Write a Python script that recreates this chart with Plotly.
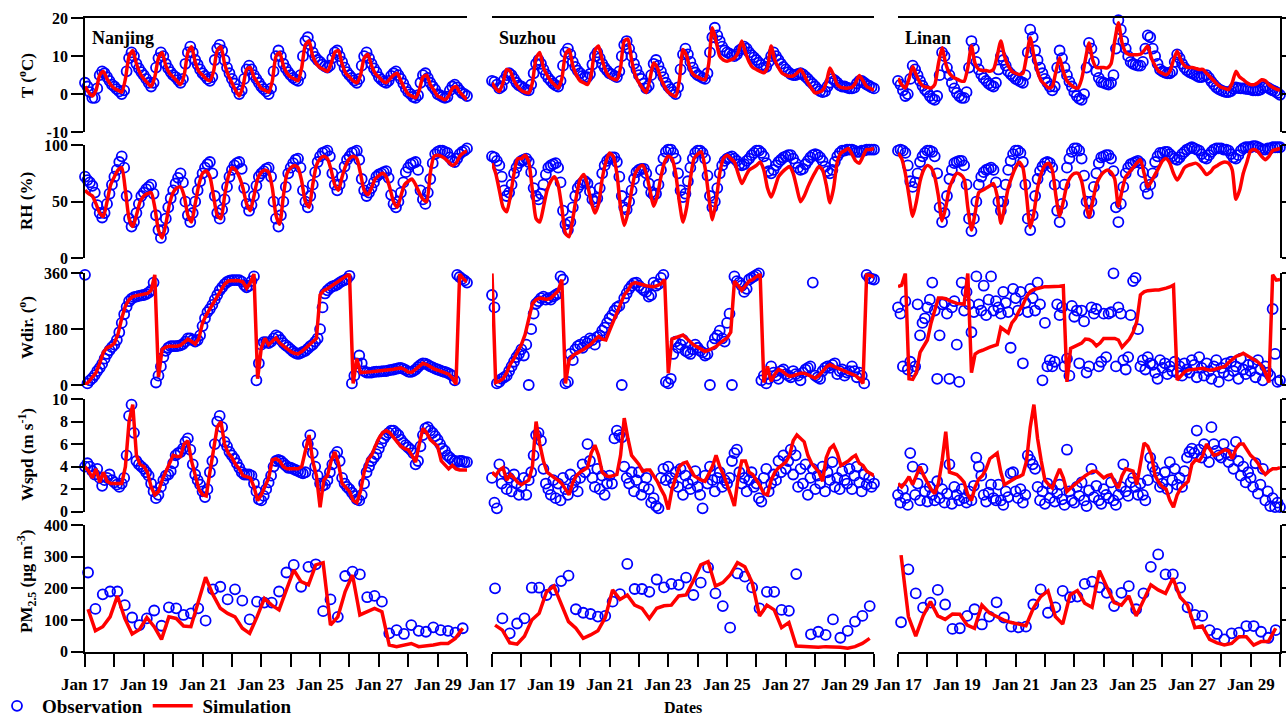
import plotly.graph_objects as go
import pandas as pd

# ---------------- data ----------------
# observations: every 2 h (Jan 17 00:00 .. Jan 30 00:00); simulations: every 3 h; PM2.5: every 6 h
CITIES = ["Nanjing", "Suzhou", "Linan"]
DATE_LABELS = ["Jan 17", "", "Jan 19", "", "Jan 21", "", "Jan 23", "", "Jan 25", "", "Jan 27", "", "Jan 29", ""]

NJ_T_OBS = [3, 2, 0.5, -1, -1, 1.5, 5, 6, 5.5, 4.5, 3.5, 2.5,
            2, 1.3, 0.7, 0, 1, 6, 9.5, 11, 10, 8, 6.8, 5.8,
            5, 4, 3, 2, 3, 7, 9.5, 11, 10, 8, 6.8, 5.8,
            5, 4.5, 3.7, 3, 4, 8, 11, 12.5, 11, 9, 7.8, 6.5,
            5.5, 4.8, 4, 3.5, 4.5, 9, 12, 13, 11.5, 9, 7, 5.5,
            4, 2.8, 1.3, 0, 1, 4, 6.5, 7.5, 6.5, 5, 4, 3,
            2, 1.3, 0.7, 0, 1.5, 6, 10, 11.5, 10, 8, 6.8, 5.8,
            5, 4.3, 3.8, 3.5, 5, 10, 14, 15, 13, 11, 9.8, 9,
            8.5, 7.8, 7.3, 7, 7.5, 9.5, 11, 11.5, 10, 8.5, 7, 5.8,
            5, 4.3, 3.6, 3, 4, 7.5, 10, 11, 9.5, 8, 6.8, 5.8,
            4.5, 3.8, 3.3, 3, 3.5, 4.8, 5.5, 6, 5, 4, 2.8, 1.5,
            0.5, 0, -0.7, -1, -0.3, 3, 5, 5.5, 4.3, 3, 2, 1.2,
            0, -0.3, -0.7, -1, -0.7, 1, 2, 2.5, 1.8, 1, 0.3, 0,
            -0.5]
SZ_T_OBS = [3.5, 3.2, 2.5, 1.5, 2, 3.8, 5, 5.5, 5, 4, 3, 2.3,
            2, 1.5, 1.1, 1, 2.5, 5.5, 8, 9, 8, 6.5, 5.2, 4.2,
            3.5, 2.8, 2.3, 2, 3.5, 7.5, 11, 12, 10.5, 8.5, 7.2, 6.2,
            5.5, 4.8, 4.5, 4.5, 5.3, 7.8, 10, 11, 9.5, 8, 7, 6.2,
            5.5, 5.2, 4.8, 4.5, 6, 10, 13, 14, 12, 10, 8, 6.5,
            5, 4, 2.8, 1.5, 2.2, 5, 8, 9, 7.5, 6, 4.5, 3,
            2, 1.3, 0.6, 0, 1.8, 6.5, 10.5, 12, 10.5, 8.5, 7, 5.7,
            5, 4.7, 4.3, 4, 5.5, 11, 15, 17.5, 15.5, 14, 12.5, 11.5,
            11, 10.7, 10.3, 10, 10.5, 11.5, 12, 12.5, 12, 11, 10.3, 9.7,
            9, 8.3, 7.7, 7, 7.2, 8.5, 10, 11, 10, 9, 8, 7.2,
            6.5, 5.8, 5.3, 5, 5, 5.3, 5.5, 5.2, 4.6, 4, 3.3, 2.7,
            2, 1.3, 0.8, 0.5, 0.7, 2, 3, 4, 3.6, 3, 2.3, 2,
            2, 1.7, 1.5, 1.5, 1.7, 2.8, 3.5, 3.5, 3, 2.5, 2.2, 1.8,
            1.5]
LN_T_OBS = [3.5, 2.5, 1, -0.5, 0, 4, 7.5, 6.5, 5, 3.5, 2.2, 1.2,
            0.5, -0.5, -1.2, -1.5, -0.5, 5, 11, 10, 7, 5, 3, 1.5,
            0.3, -0.5, -1, -1, 0.5, 7, 14, 12, 8.5, 6.5, 5.2, 4.2,
            3.5, 2.8, 2.3, 2, 3, 6.5, 10, 9, 7.5, 6, 5.3, 4.7,
            4, 3.7, 3.3, 3, 5, 11, 17, 15, 11.5, 9, 7, 5.5,
            4, 3, 2, 1, 2, 7, 11.5, 9.5, 7, 5, 3.3, 2,
            0.5, -0.5, -1.2, -1.5, 0, 7, 13.5, 12, 8.5, 6, 4.3, 3.2,
            3, 2.7, 2.5, 3, 5, 12, 19.5, 17, 14, 12, 10, 8.5,
            8, 7.7, 7.5, 7.5, 8.5, 12, 15.5, 15, 12, 10, 8, 6.5,
            6, 5.7, 5.5, 5.5, 6, 8.5, 10.5, 9.5, 8, 7, 6.3, 5.8,
            5.5, 5.2, 4.8, 4.5, 4.5, 4.8, 5, 4.3, 3.3, 2.5, 1.8, 1.3,
            1, 0.7, 0.5, 0.5, 0.8, 1.4, 1.8, 1.6, 1.5, 1.5, 1.4, 1.3,
            1.2, 1, 1, 1, 1.2, 1.7, 2, 1.7, 1.3, 1, 0.7, 0.3,
            -0.2]
NJ_T_SIM = [2, 0.5, -0.5, 1, 5, 6, 4, 2.5, 1.5, 1, 0.5, 4, 10, 11.5, 8, 5.5, 4, 3, 2, 4.5, 9.5, 11, 7.5, 5.5,
            4.5, 3.5, 2.5, 5, 11, 12.5, 8.5, 6, 5, 4, 3.5, 6, 11.5, 12.5, 8, 5, 3, 1, -0.5, 2, 6.5, 7, 4.5, 3,
            1.5, 1, 0.5, 3.5, 10, 11, 7.5, 5.5, 4.5, 4, 3.5, 7, 13, 14, 10, 8, 7, 6.5, 6, 8, 11, 11.5, 8, 5.5,
            4.5, 3.5, 3, 5, 9.5, 10.5, 7.5, 5.5, 4.5, 3.5, 3, 4, 5, 5.5, 3.5, 1.5, 0, -0.5, -1, 1, 4.5, 5, 2.5, 1,
            -0.5, -1, -1.5, -0.5, 1.5, 2, 0.5, -0.5, -1.5]
SZ_T_SIM = [3.0, 1.5, 0.7, 3.0, 6.5, 6.0, 3.5, 2.0, 1.0, 0.5, 0.3, 3.0, 9.5, 11.0, 7.0, 5.0,
            3.5, 2.5, 1.6, 4.0, 10.5, 11.8, 7.5, 5.0, 3.5, 3.0, 2.5, 5.0, 11.5, 12.7, 9.0, 6.0,
            4.5, 4.0, 3.8, 7.0, 14.0, 14.5, 9.0, 5.0, 3.0, 1.5, 0.4, 4.0, 8.2, 7.0, 4.0, 2.0,
            0.5, -0.2, -0.6, 3.5, 11.8, 10.0, 6.5, 5.0, 4.5, 4.0, 3.8, 8.0, 17.5, 14.0, 10.0, 9.0,
            8.7, 9.0, 9.5, 11.0, 14.0, 11.0, 8.5, 7.0, 6.5, 6.0, 5.6, 7.0, 12.7, 9.0, 7.0, 5.5,
            5.0, 4.7, 4.8, 5.5, 6.5, 5.0, 3.0, 1.5, 0.3, 0.5, 1.0, 3.0, 6.9, 5.0, 2.5, 1.8,
            1.6, 1.6, 1.8, 3.0, 4.9, 3.5, 2.0, 1.5, 1.0]
LN_T_SIM = [4.2, 2.5, 1.6, 4.0, 7.3, 5.0, 3.0, 2.0, 1.8, 1.6, 2.5, 8.0, 12.2, 8.0, 5.5, 4.5,
            4.0, 3.5, 3.4, 7.0, 12.7, 8.0, 6.5, 6.2, 6.2, 6.0, 6.5, 10.0, 14.0, 10.0, 7.5, 6.0,
            5.5, 5.2, 5.5, 10.0, 14.9, 10.0, 6.0, 3.5, 2.5, 1.6, 2.0, 6.0, 9.6, 6.0, 3.5, 2.5,
            1.8, 1.6, 4.0, 9.0, 13.5, 9.0, 7.0, 7.0, 7.0, 6.9, 8.0, 14.0, 18.8, 13.5, 11.0, 10.4,
            10.4, 10.4, 10.5, 11.5, 12.7, 9.5, 7.5, 6.0, 5.5, 5.1, 6.0, 9.0, 11.3, 9.0, 7.5, 7.0,
            7.0, 6.8, 6.5, 6.5, 5.5, 4.5, 3.5, 2.5, 1.8, 1.5, 1.2, 3.0, 6.0, 4.5, 3.8, 3.0,
            2.5, 2.5, 3.0, 3.8, 3.5, 2.5, 1.8, 1.3, 1.0]

NJ_RH_OBS = [72, 69, 67, 64, 58, 47, 40, 36, 40, 48, 57, 65,
             72, 78, 85, 90, 80, 55, 35, 28, 32, 40, 48, 55,
             58, 61, 63, 65, 57, 38, 25, 18, 25, 35, 45, 53,
             60, 66, 71, 75, 67, 50, 38, 32, 40, 50, 60, 68,
             75, 80, 83, 85, 75, 55, 40, 35, 43, 52, 63, 72,
             78, 82, 84, 85, 79, 62, 48, 42, 47, 55, 64, 72,
             75, 77, 79, 80, 72, 50, 35, 28, 38, 50, 63, 75,
             80, 84, 87, 88, 80, 60, 50, 45, 55, 65, 76, 85,
             90, 93, 94, 95, 90, 75, 65, 60, 65, 72, 81, 87,
             90, 93, 94, 95, 87, 70, 60, 55, 58, 62, 67, 72,
             74, 75, 76, 77, 71, 56, 48, 45, 50, 58, 67, 76,
             80, 83, 84, 85, 78, 60, 52, 48, 58, 70, 84, 92,
             94, 95, 95, 94, 93, 89, 86, 85, 88, 92, 94, 95,
             97]
SZ_RH_OBS = [90, 89, 86, 82, 72, 60, 55, 58, 65, 75, 80, 84,
             86, 87, 88, 85, 76, 62, 55, 52, 57, 65, 74, 80,
             82, 83, 84, 80, 67, 42, 30, 25, 32, 45, 55, 62,
             65, 67, 68, 66, 59, 52, 50, 53, 62, 75, 82, 86,
             88, 89, 89, 85, 72, 55, 45, 43, 50, 60, 70, 76,
             78, 79, 79, 75, 66, 58, 56, 57, 65, 78, 88, 94,
             96, 96, 93, 88, 75, 60, 54, 57, 68, 80, 88, 93,
             95, 95, 93, 88, 73, 55, 45, 50, 62, 75, 82, 86,
             88, 89, 90, 88, 86, 83, 82, 83, 86, 88, 91, 93,
             95, 95, 93, 90, 84, 77, 75, 78, 82, 85, 87, 89,
             90, 91, 91, 88, 84, 80, 78, 79, 83, 86, 89, 91,
             92, 91, 89, 86, 81, 77, 75, 78, 85, 90, 93, 95,
             95, 96, 96, 96, 95, 94, 94, 95, 95, 96, 96, 96,
             96]
LN_RH_OBS = [95, 96, 95, 93, 82, 68, 63, 67, 75, 85, 90, 93,
             95, 95, 94, 90, 75, 45, 32, 40, 55, 70, 78, 84,
             85, 86, 86, 82, 65, 35, 24, 35, 50, 65, 72, 76,
             78, 79, 80, 78, 67, 50, 42, 50, 65, 78, 86, 92,
             95, 95, 93, 85, 65, 35, 25, 38, 55, 70, 77, 81,
             84, 85, 84, 80, 65, 42, 32, 48, 65, 80, 88, 94,
             97, 97, 95, 88, 73, 50, 40, 50, 63, 75, 84, 89,
             90, 91, 91, 88, 77, 45, 32, 48, 63, 75, 80, 83,
             84, 85, 86, 84, 76, 63, 57, 65, 75, 85, 90, 93,
             93, 94, 94, 92, 90, 88, 87, 89, 92, 94, 96, 97,
             98, 97, 96, 95, 92, 89, 88, 91, 94, 96, 97, 97,
             97, 96, 96, 95, 92, 89, 88, 91, 95, 97, 98, 98,
             98, 99, 99, 98, 97, 96, 96, 97, 97, 98, 98, 98,
             98]
NJ_RH_SIM = [60, 57, 55, 48, 40, 37, 50, 65, 72, 78, 80, 60, 35, 28, 38, 50, 55, 57, 58, 45, 25, 18, 30, 48,
             58, 62, 63, 55, 38, 32, 48, 65, 75, 77, 72, 55, 38, 35, 55, 72, 80, 78, 72, 62, 48, 42, 55, 70,
             76, 78, 76, 62, 38, 30, 55, 75, 80, 82, 80, 68, 50, 45, 65, 82, 88, 90, 88, 78, 65, 60, 72, 82,
             88, 90, 88, 75, 60, 56, 62, 70, 73, 75, 72, 62, 50, 45, 55, 65, 68, 70, 65, 58, 52, 50, 75, 90,
             91, 90, 88, 85, 82, 84, 90, 93, 95]
SZ_RH_SIM = [84, 75, 60, 45, 41, 55, 75, 88, 88, 91, 85, 60, 35, 32, 45, 60, 68, 72, 65, 45, 22, 19, 35, 55,
             70, 74, 65, 50, 40, 48, 70, 85, 93, 90, 75, 45, 29, 40, 60, 75, 80, 82, 75, 60, 46, 55, 72, 85,
             90, 88, 75, 50, 32, 45, 70, 88, 92, 94, 80, 55, 34, 50, 75, 88, 91, 88, 85, 75, 66, 72, 78, 80,
             82, 85, 78, 62, 54, 62, 72, 76, 79, 81, 75, 62, 50, 55, 63, 70, 76, 81, 78, 65, 49, 62, 85, 93,
             95, 97, 92, 86, 84, 90, 96, 96, 97]
LN_RH_SIM = [93, 88, 75, 55, 37, 50, 68, 78, 82, 80, 72, 55, 33, 45, 62, 70, 75, 74, 70, 45, 25, 40, 58, 60,
             62, 64, 66, 55, 31, 45, 62, 72, 80, 85, 80, 55, 27, 40, 62, 75, 82, 84, 78, 55, 37, 50, 65, 72,
             75, 75, 68, 50, 36, 50, 65, 72, 76, 78, 76, 70, 46, 60, 72, 76, 80, 84, 87, 75, 63, 68, 74, 80,
             86, 88, 84, 75, 69, 74, 80, 82, 83, 84, 82, 78, 74, 76, 80, 82, 84, 85, 84, 78, 52, 60, 75, 85,
             95, 96, 94, 90, 87, 90, 95, 96, 97]

NJ_WD_OBS = [355, 5, 15, 22, 32, 45, 55, 68, 85, 100, 112, 122,
             130, 145, 170, 200, 228, 252, 270, 278, 283, 285, 287, 289,
             290, 293, 298, 305, 330, 8, 30, 60, 90, 110, 120, 125,
             125, 125, 126, 128, 132, 140, 150, 150, 145, 140, 145, 160,
             190, 215, 235, 245, 258, 275, 290, 305, 315, 325, 332, 336,
             338, 338, 338, 338, 333, 322, 315, 320, 335, 350, 15, 70,
             130, 138, 138, 135, 140, 150, 160, 155, 145, 135, 128, 122,
             115, 108, 103, 100, 103, 107, 110, 117, 125, 130, 140, 150,
             180, 250, 295, 305, 312, 318, 320, 324, 330, 335, 338, 342,
             352, 5, 30, 70, 95, 70, 45, 40, 40, 40, 42, 43,
             43, 44, 45, 45, 47, 49, 50, 52, 54, 55, 52, 48,
             43, 42, 45, 50, 58, 65, 70, 69, 65, 60, 57, 53,
             50, 47, 44, 42, 39, 35, 30, 15, 355, 348, 342, 337,
             330]
SZ_WD_OBS = [290, 250, 5, 10, 20, 25, 30, 45, 60, 75, 90, 100,
             115, 95, 130, 0, 180, 230, 262, 270, 280, 285, 275, 280,
             275, 285, 290, 295, 350, 340, 5, 10, 100, 80, 115, 125,
             130, 120, 140, 135, 150, 145, 130, 155, 160, 175, 185, 200,
             215, 225, 240, 250, 255, 0, 280, 295, 310, 320, 328, 330,
             320, 312, 305, 300, 285, 290, 330, 320, 325, 345, 355, 10,
             5, 20, 100, 140, 120, 130, 145, 110, 105, 100, 115, 130,
             120, 110, 105, 95, 100, 0, 130, 150, 160, 175, 150, 140,
             200, 230, 0, 350, 335, 330, 320, 300, 310, 340, 345, 350,
             355, 360, 15, 30, 5, 20, 60, 40, 30, 20, 45, 50,
             35, 30, 25, 45, 35, 30, 15, 40, 50, 55, 60, 330,
             30, 25, 20, 45, 55, 60, 55, 65, 70, 35, 45, 50,
             30, 40, 45, 60, 45, 25, 40, 30, 5, 355, 345, 342,
             340]
LN_WD_OBS = [250, 230, 60, 270, 50, 75, 45, 60, 260, 160, 200, 215,
             250, 275, 330, 240, 20, 160, 260, 265, 230, 20, 250, 270,
             130, 10, 330, 240, 300, 260, 170, 235, 350, 260, 240, 320,
             225, 275, 350, 240, 270, 250, 230, 300, 265, 235, 120, 310,
             280, 240, 300, 70, 265, 235, 310, 280, 240, 330, 260, 15,
             200, 60, 80, 60, 75, 260, 225, 250, 60, 85, 30, 255,
             220, 240, 70, 240, 205, 40, 60, 250, 230, 245, 60, 75,
             230, 90, 230, 235, 360, 60, 250, 230, 80, 50, 90, 225,
             335, 345, 180, 60, 80, 50, 90, 70, 65, 40, 20, 80,
             55, 70, 35, 60, 45, 75, 40, 60, 30, 70, 50, 40,
             80, 65, 25, 90, 55, 30, 70, 45, 20, 60, 80, 10,
             55, 40, 70, 30, 75, 45, 60, 20, 85, 50, 35, 65,
             45, 70, 25, 80, 50, 15, 60, 40, 30, 245, 100, 10,
             15]
NJ_WD_SIM = [0, 10, 25, 40, 70, 105, 120, 125, 135, 165, 215, 255, 275, 285, 288, 290,
             292, 295, 305, 355, 25, 115, 122, 125, 125, 125, 128, 138, 148, 140, 132, 150,
             200, 225, 245, 265, 290, 305, 325, 335, 337, 337, 336, 332, 312, 330, 358, 20,
             120, 150, 130, 140, 152, 135, 125, 115, 108, 102, 100, 108, 118, 128, 138, 150,
             290, 305, 310, 318, 325, 332, 340, 348, 358, 5, 85, 40, 42, 42, 43, 44,
             45, 46, 47, 49, 51, 53, 55, 50, 42, 41, 50, 62, 70, 66, 58, 52,
             48, 44, 40, 35, 22, 2, 358, 342, 332]
SZ_WD_SIM = [360, 8, 12, 20, 40, 68, 85, 105, 130, 162, 210, 262, 275, 280, 278, 276,
             280, 290, 303, 340, 5, 80, 95, 102, 107, 115, 124, 132, 145, 156, 148, 145,
             175, 204, 232, 262, 290, 305, 325, 330, 326, 322, 320, 318, 317, 320, 326, 340,
             38, 148, 152, 158, 161, 150, 138, 128, 122, 115, 108, 112, 118, 124, 135, 143,
             152, 170, 335, 320, 305, 320, 335, 340, 350, 358, 8, 60, 12, 35, 50, 45,
             35, 28, 30, 35, 38, 38, 32, 26, 22, 30, 45, 58, 65, 60, 55, 50,
             47, 42, 36, 30, 20, 5, 358, 352, 348]
LN_WD_SIM = [317, 322, 360, 20, 18, 40, 105, 125, 145, 200, 245, 280, 280, 278, 272, 266,
             263, 262, 260, 360, 40, 100, 108, 112, 118, 122, 126, 130, 185, 178, 168, 200,
             215, 240, 258, 285, 301, 308, 312, 314, 317, 317, 317, 317, 318, 320, 10, 118,
             124, 129, 135, 148, 147, 140, 126, 135, 150, 150, 150, 150, 145, 122, 135, 148,
             170, 204, 290, 300, 304, 306, 306, 306, 308, 312, 316, 322, 16, 30, 42, 48,
             50, 52, 54, 54, 50, 48, 50, 54, 57, 60, 72, 84, 92, 96, 102, 95,
             88, 80, 74, 62, 40, 8, 355, 338, 340]

NJ_WS_OBS = [4.0, 4.3, 4.0, 3.6, 3.3, 3.8, 3.0, 2.3, 2.8, 3.0, 3.3, 2.8,
             2.6, 2.4, 2.2, 2.5, 3.0, 5.0, 8.5, 9.5, 7.0, 4.5, 4.2, 4.0,
             3.8, 3.5, 3.2, 2.5, 1.8, 1.2, 1.5, 2.2, 2.8, 3.2, 3.3, 3.6,
             4.3, 5.0, 5.2, 5.3, 5.6, 6.2, 6.5, 5.5, 4.2, 3.3, 2.8, 2.4,
             1.8, 1.3, 2.0, 3.5, 4.5, 6.0, 8.0, 8.5, 7.5, 6.2, 5.8, 5.3,
             5.0, 4.7, 4.3, 3.9, 3.5, 3.3, 3.3, 3.3, 3.2, 2.5, 1.8, 1.1,
             1.0, 1.4, 2.0, 2.6, 3.2, 4.0, 4.5, 4.6, 4.5, 4.3, 4.1, 3.9,
             3.9, 3.8, 3.7, 3.6, 3.5, 3.4, 3.5, 6.0, 6.8, 5.2, 4.0, 3.2,
             2.5, 2.3, 2.4, 2.8, 3.5, 4.2, 5.0, 5.3, 4.5, 3.0, 2.5, 2.2,
             2.0, 1.7, 1.4, 1.1, 1.0, 1.5, 2.5, 3.5, 4.0, 4.5, 4.8, 5.1,
             5.6, 6.1, 6.5, 6.8, 7.0, 7.2, 7.2, 7.0, 6.8, 6.4, 6.1, 5.9,
             5.7, 5.5, 5.2, 4.2, 4.5, 5.8, 6.8, 7.4, 7.5, 7.2, 7.0, 6.7,
             6.4, 6.0, 5.6, 5.4, 5.0, 4.8, 4.6, 4.5, 4.4, 4.5, 4.5, 4.4,
             4.4]
SZ_WS_OBS = [3.0, 0.8, 0.3, 4.2, 2.5, 3.5, 2.0, 3.0, 1.8, 3.3, 2.5, 1.5,
             2.2, 3.0, 1.5, 2.8, 3.5, 5.0, 6.8, 7.0, 6.3, 3.8, 2.5, 2.0,
             1.5, 2.8, 1.2, 2.5, 1.0, 3.0, 2.0, 1.5, 3.3, 2.2, 2.8, 1.8,
             3.0, 4.2, 3.5, 6.0, 4.5, 3.0, 2.2, 3.8, 2.0, 3.2, 1.5, 2.5,
             3.2, 2.5, 6.5, 7.2, 6.8, 6.6, 4.0, 3.0, 2.5, 3.5, 1.8, 2.8,
             3.5, 1.5, 2.2, 3.0, 2.0, 0.8, 1.2, 0.5, 0.3, 3.0, 3.8, 2.8,
             4.0, 3.0, 2.5, 3.5, 2.2, 3.8, 1.5, 3.2, 2.5, 2.0, 2.8, 3.6,
             2.2, 1.5, 0.3, 3.2, 2.5, 4.0, 2.8, 1.8, 3.0, 3.5, 2.2, 2.8,
             2.5, 3.0, 4.5, 5.2, 5.5, 3.5, 2.5, 3.0, 1.8, 2.8, 3.5, 2.2,
             2.5, 1.2, 0.9, 3.0, 3.8, 1.8, 2.5, 3.3, 2.8, 4.5, 3.5, 5.0,
             3.8, 4.5, 5.5, 3.3, 5.0, 2.2, 3.8, 2.5, 4.2, 1.5, 3.0, 3.8,
             2.0, 3.2, 2.5, 4.0, 1.8, 3.5, 2.8, 4.4, 2.2, 3.0, 2.0, 3.6,
             2.8, 2.5, 3.8, 2.0, 3.2, 4.0, 2.6, 1.8, 3.3, 2.4, 3.0, 2.2,
             2.5]
LN_WS_OBS = [1.5, 0.8, 2.0, 1.2, 0.6, 5.2, 4.0, 1.5, 2.5, 1.0, 3.8, 1.8,
             0.9, 2.2, 1.5, 1.0, 2.7, 1.2, 2.0, 0.8, 1.6, 4.2, 0.7, 2.2,
             1.5, 1.0, 2.0, 1.2, 0.8, 1.8, 1.0, 2.3, 4.8, 4.0, 3.2, 1.5,
             0.9, 1.7, 2.4, 1.2, 1.0, 2.4, 1.0, 0.6, 1.8, 1.3, 3.4, 3.5,
             1.8, 1.2, 2.0, 0.8, 1.5, 5.0, 4.6, 4.2, 3.8, 2.2, 1.0, 1.8,
             0.7, 2.5, 1.2, 2.0, 0.9, 1.6, 2.4, 1.1, 0.6, 5.5, 1.8, 1.0,
             0.8, 2.2, 1.4, 2.6, 1.0, 0.5, 1.9, 3.8, 1.3, 2.3, 1.0, 0.7,
             2.0, 1.5, 1.2, 2.6, 1.0, 0.6, 1.5, 2.2, 4.2, 1.8, 1.4, 2.6,
             3.0, 2.2, 1.5, 2.5, 1.5, 1.0, 2.8, 4.8, 4.0, 3.6, 3.0, 2.2,
             2.5, 3.5, 2.0, 4.4, 2.8, 3.8, 2.4, 3.0, 2.2, 3.6, 4.8, 5.3,
             5.6, 5.2, 7.2, 5.5, 4.8, 6.0, 5.2, 4.4, 7.5, 6.0, 5.4, 5.0,
             4.8, 6.0, 5.2, 4.4, 5.0, 3.8, 6.2, 4.5, 3.2, 4.0, 2.6, 3.5,
             3.0, 2.2, 4.3, 1.6, 2.4, 3.8, 1.0, 1.8, 0.5, 1.2, 0.4, 0.8,
             0.4]
NJ_WS_SIM = [4.0, 3.6, 3.0, 3.8, 2.6, 3.5, 2.7, 2.5, 2.5, 2.5, 2.5, 4.0, 8.0, 9.5, 5.0, 4.2,
             4.0, 3.5, 2.2, 1.5, 1.8, 2.8, 3.5, 4.2, 5.0, 4.9, 4.9, 6.0, 6.3, 4.5, 3.2, 2.0,
             1.5, 1.4, 3.5, 5.5, 7.5, 8.0, 6.0, 5.2, 4.8, 4.2, 3.8, 3.2, 3.1, 3.0, 2.2, 1.0,
             1.5, 2.2, 3.0, 4.6, 4.7, 4.5, 4.0, 3.8, 3.8, 3.8, 3.8, 4.0, 5.5, 6.8, 4.5, 3.2,
             0.4, 2.8, 3.2, 4.5, 5.3, 4.3, 2.5, 2.2, 1.8, 1.0, 0.8, 1.8, 3.5, 4.6, 5.0, 5.8,
             6.5, 7.0, 7.2, 7.0, 6.6, 6.2, 5.8, 5.6, 5.5, 5.0, 4.4, 6.0, 7.4, 7.0, 6.4, 6.1,
             5.8, 4.5, 4.1, 3.8, 4.1, 3.8, 3.7, 3.7, 3.7]
SZ_WS_SIM = [3.5, 3.2, 3.7, 3.9, 2.8, 3.3, 3.0, 2.6, 2.4, 2.6, 2.8, 4.0, 8.0, 6.0, 4.5, 3.5,
             3.2, 3.0, 2.8, 2.5, 2.0, 1.5, 2.6, 3.2, 3.5, 3.7, 3.9, 5.2, 5.9, 5.0, 3.5, 3.2,
             3.1, 3.2, 3.3, 5.0, 8.3, 6.5, 5.0, 4.6, 4.2, 3.6, 3.7, 3.7, 3.2, 2.7, 2.0, 1.4,
             0.2, 2.0, 3.0, 4.0, 4.3, 4.4, 3.8, 3.2, 3.0, 2.8, 2.7, 3.3, 4.0, 5.0, 4.0, 3.3,
             2.5, 1.5, 0.5, 3.0, 4.5, 4.5, 3.5, 3.3, 2.8, 2.3, 1.6, 1.5, 2.8, 3.5, 3.9, 4.2,
             4.4, 5.0, 6.3, 6.8, 6.5, 6.2, 5.0, 4.3, 3.9, 3.5, 2.7, 4.8, 5.6, 5.9, 5.2, 4.1,
             4.3, 4.5, 4.8, 5.0, 4.3, 4.1, 3.6, 3.4, 3.2]
LN_WS_SIM = [2.5, 2.2, 2.6, 3.1, 2.4, 3.2, 4.0, 3.2, 2.6, 2.0, 1.6, 2.5, 4.5, 7.1, 3.5, 3.4,
             3.3, 3.0, 2.6, 1.5, 1.0, 2.2, 2.9, 3.2, 3.8, 4.7, 5.0, 5.2, 3.5, 2.4, 2.6, 2.8,
             3.0, 3.1, 3.3, 4.5, 7.5, 9.5, 6.5, 4.5, 2.8, 2.4, 2.1, 3.0, 3.8, 3.0, 1.8, 2.1,
             2.4, 2.6, 2.9, 3.2, 3.4, 3.6, 3.6, 3.3, 3.0, 3.2, 3.3, 2.6, 2.1, 3.2, 3.8, 3.7,
             3.6, 2.4, 4.5, 6.1, 5.8, 5.0, 3.2, 2.6, 2.2, 2.0, 1.0, 0.4, 1.5, 2.1, 2.4, 2.7,
             4.2, 4.6, 4.5, 5.0, 6.0, 5.5, 5.0, 5.1, 5.3, 5.5, 5.4, 4.7, 5.6, 6.0, 6.0, 5.5,
             5.0, 4.7, 4.3, 3.7, 3.3, 3.6, 3.8, 3.8, 3.9]

NJ_PM_OBS = [250, 135, 181, 190, 190, 147, 108, 84, 105, 130, 82, 140, 137, 116, 121, 137, 98, 197, 205, 165,
             197, 161, 102, 158, 155, 155, 190, 250, 274, 205, 268, 276, 128, 165, 110, 239, 253, 244, 172, 176,
             158, 58, 68, 56, 84, 66, 63, 77, 68, 66, 60, 74]
NJ_PM_SIM = [134, 66, 79, 110, 176, 105, 56, 70, 108, 79, 39, 110, 105, 81, 79, 158, 235, 180, 137, 121,
             110, 74, 58, 110, 168, 147, 132, 195, 258, 221, 211, 274, 281, 84, 110, 190, 242, 116, 126, 137,
             126, 21, 16, 21, 26, 16, 18, 21, 26, 26, 42, 74]
SZ_PM_OBS = [200, 105, 58, 89, 105, 202, 202, 179, 195, 223, 240, 134, 123, 119, 111, 113, 158, 182, 277, 198,
             198, 189, 228, 203, 214, 211, 234, 179, 218, 266, 184, 144, 76, 247, 237, 203, 137, 189, 189, 132,
             129, 245, None, 55, 63, 53, 102, 44, 66, 95, 113, 144]
SZ_PM_SIM = [84, 68, 28, 24, 49, 100, 121, 189, 207, 150, 95, 74, 42, 53, 66, 108, 195, 165, 179, 147,
             137, 105, 137, 145, 147, 176, 179, 224, 274, 284, 207, 218, 242, 281, 268, 218, 113, 147, 132, 76,
             92, 18, 16, 14, 14, 16, 16, 14, 11, 16, 26, 42]
LN_PM_OBS = [93, 260, 184, 139, 155, 195, 149, 72, 74, 113, 134, 86, 111, 156, 108, 79, 77, 79, 149, 197,
             123, 140, 192, 172, 174, 214, 221, 203, 186, 144, 186, 207, 134, 184, 268, 307, 244, 244, 202, 140,
             116, 113, 68, 56, 39, 58, 60, 81, 81, 63, 44, 68]
LN_PM_SIM = [305, 111, 49, 113, 158, 113, 102, 119, 118, 84, 74, 147, 123, 111, 100, 92, 86, 82, 137, 174,
             192, 111, 87, 179, 193, 153, 140, 256, 205, 155, 147, 176, 113, 161, 211, 195, 184, 232, 172, 147,
             76, 81, 39, 28, 21, 26, 47, 47, 21, 32, 32, 74]

# ---------------- structure ----------------
def stamps(start, n, freq):
    return [t.strftime("%Y-%m-%d %H:%M") for t in pd.date_range(start, periods=n, freq=freq)]


T_OBS = stamps("2016-01-17 00:00", 157, "2h")
T_SIM = stamps("2016-01-17 00:00", 105, "3h")
T_PM = stamps("2016-01-17 02:30", 52, "6h")
DAYS = [t.strftime("%Y-%m-%d") for t in pd.date_range("2016-01-17", periods=14, freq="D")]

ROWS = [
    dict(obs=[NJ_T_OBS, SZ_T_OBS, LN_T_OBS], sim=[NJ_T_SIM, SZ_T_SIM, LN_T_SIM], to=T_OBS, ts=T_SIM,
         rng=[-10, 20], ticks=[-10, 0, 10, 20], title="T (<sup>o</sup>C)", shape="spline"),
    dict(obs=[NJ_RH_OBS, SZ_RH_OBS, LN_RH_OBS], sim=[NJ_RH_SIM, SZ_RH_SIM, LN_RH_SIM], to=T_OBS, ts=T_SIM,
         rng=[0, 100], ticks=[0, 50, 100], title="RH (%)", shape="spline"),
    dict(obs=[NJ_WD_OBS, SZ_WD_OBS, LN_WD_OBS], sim=[NJ_WD_SIM, SZ_WD_SIM, LN_WD_SIM], to=T_OBS, ts=T_SIM,
         rng=[0, 360], ticks=[0, 180, 360], title="Wdir. (<sup>o</sup>)", shape="linear"),
    dict(obs=[NJ_WS_OBS, SZ_WS_OBS, LN_WS_OBS], sim=[NJ_WS_SIM, SZ_WS_SIM, LN_WS_SIM], to=T_OBS, ts=T_SIM,
         rng=[0, 10], ticks=[0, 2, 4, 6, 8, 10], title="Wspd (m s<sup>-1</sup>)", shape="linear"),
    dict(obs=[NJ_PM_OBS, SZ_PM_OBS, LN_PM_OBS], sim=[NJ_PM_SIM, SZ_PM_SIM, LN_PM_SIM], to=T_PM, ts=T_PM,
         rng=[0, 400], ticks=[0, 100, 200, 300, 400], title="PM<sub>2.5</sub> (μg m<sup>-3</sup>)",
         shape="linear"),
]

W, H = 1286, 716
COLS_PX = [(85, 467), (492, 874), (898, 1280)]
ROWS_PX = [(18.3, 132.0), (145.0, 258.3), (273.3, 385.0), (399.0, 511.7), (525.0, 651.7)]
TITLE_Y = [76, 201, 328, 455, 582]
DATE_LABEL_Y = 684
FONT = "Liberation Serif"
BLUE = "#0000FF"
RED = "#FF0000"


def fx(p):
    return p / W


def fy(p):
    return 1 - p / H


fig = go.Figure()
layout = {}
annotations = []
for r, row in enumerate(ROWS):
    for c in range(3):
        n = r * 3 + c + 1
        xs = "" if n == 1 else str(n)
        obs, sim = row["obs"][c], row["sim"][c]
        assert len(obs) == len(row["to"]) and len(sim) == len(row["ts"]), (r, c, len(obs), len(sim))
        fig.add_trace(go.Scatter(
            x=row["to"], y=obs, xaxis="x" + xs, yaxis="y" + xs, mode="markers",
            marker=dict(symbol="circle-open", size=10, color=BLUE, line=dict(width=1.8, color=BLUE)),
            name="<b>Observation</b>", legendgroup="obs", showlegend=(n == 1), cliponaxis=False))
        fig.add_trace(go.Scatter(
            x=row["ts"], y=sim, xaxis="x" + xs, yaxis="y" + xs, mode="lines",
            line=dict(color=RED, width=3.5, shape=row["shape"], smoothing=0.6),
            name="\u00a0<b>Simulation</b>", legendgroup="sim", showlegend=(n == 1), cliponaxis=False))

        xa = dict(domain=[fx(COLS_PX[c][0]), fx(COLS_PX[c][1])], range=[DAYS[0], DAYS[-1]],
                  anchor="y" + xs, showgrid=False, zeroline=False, fixedrange=True, automargin=False)
        if r == 0:
            xa.update(side="top", showline=True, linecolor="black", linewidth=1.8,
                      ticks="", showticklabels=False)
        elif r == 4:
            xa.update(showline=True, linecolor="black", linewidth=1.8, ticks="outside",
                      ticklen=13, tickwidth=1.8, tickcolor="black",
                      tickvals=DAYS, showticklabels=False)
            # date labels of the bottom axis, placed at their dates on this axis
            for day, lab in zip(DAYS, DATE_LABELS):
                if lab:
                    annotations.append(dict(x=day, xref="x" + xs, y=fy(DATE_LABEL_Y), yref="paper",
                                            text="<b>%s</b>" % lab, showarrow=False,
                                            xanchor="center", yanchor="middle",
                                            font=dict(family=FONT, size=17, color="black")))
        else:
            xa.update(visible=False)
        ya = dict(domain=[fy(ROWS_PX[r][1]), fy(ROWS_PX[r][0])], range=row["rng"],
                  anchor="x" + xs, showgrid=False, zeroline=False, fixedrange=True, automargin=False)
        if c == 0:
            ya.update(showline=True, linecolor="black", linewidth=1.8, ticks="outside",
                      ticklen=12, tickwidth=1.8, tickcolor="black", tickvals=row["ticks"],
                      ticktext=["<b>%s</b>" % v for v in row["ticks"]],
                      tickfont=dict(family=FONT, size=16, color="black"))
        elif c == 1:
            ya.update(visible=False)
        else:
            ya.update(side="right", showline=True, linecolor="black", linewidth=1.8,
                      ticks="outside", ticklen=10, tickwidth=1.8, tickcolor="black",
                      tickvals=row["ticks"], showticklabels=False)
        layout["xaxis" + xs] = xa
        layout["yaxis" + xs] = ya

for c, name in enumerate(CITIES):
    annotations.append(dict(x=fx(COLS_PX[c][0] + 5), y=fy(38), xref="paper", yref="paper",
                            text="<b>%s</b>" % name, showarrow=False, xanchor="left", yanchor="middle",
                            font=dict(family=FONT, size=18, color="black")))
for r, row in enumerate(ROWS):
    annotations.append(dict(x=fx(26), y=fy(TITLE_Y[r]), xref="paper", yref="paper",
                            text="<b>%s</b>" % row["title"], showarrow=False, textangle=-90,
                            xanchor="center", yanchor="middle",
                            font=dict(family=FONT, size=17, color="black")))
annotations.append(dict(x=fx(683), y=fy(707), xref="paper", yref="paper", text="<b>Dates</b>",
                        showarrow=False, xanchor="center", yanchor="middle",
                        font=dict(family=FONT, size=16, color="black")))

fig.update_layout(
    **layout,
    width=W, height=H, autosize=False,
    margin=dict(l=0, r=0, t=0, b=0, autoexpand=False),
    paper_bgcolor="white", plot_bgcolor="rgba(0,0,0,0)",
    annotations=annotations,
    legend=dict(orientation="h", x=fx(-8), xanchor="left", y=fy(706), yanchor="middle",
                font=dict(family=FONT, size=19, color="black"), bgcolor="rgba(0,0,0,0)",
                itemwidth=40, tracegroupgap=0),
    showlegend=True,
)

fig.write_html("out.html", config={"displayModeBar": False},
               post_script="document.body.style.margin='0px';document.body.style.padding='0px';"
                           "document.body.style.overflow='hidden';")
